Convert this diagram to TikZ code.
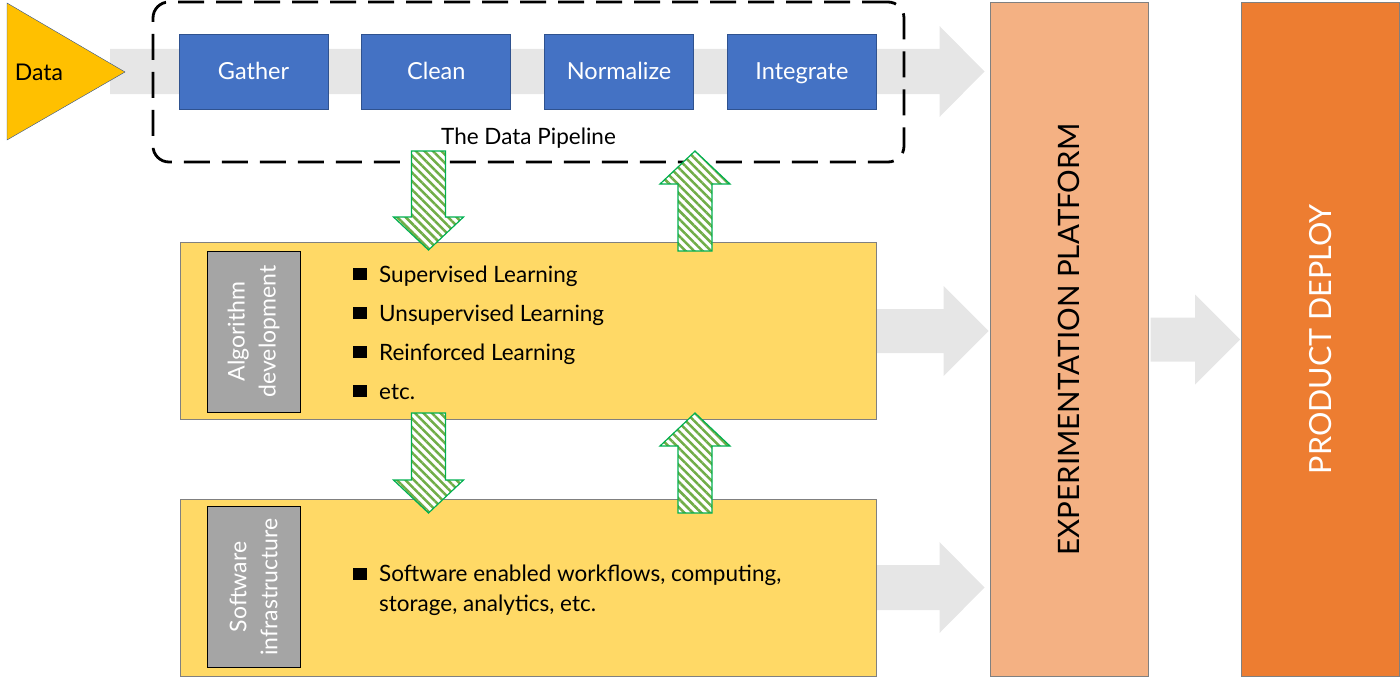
\documentclass[tikz,border=0pt]{standalone}
\usepackage{fontspec}
\setmainfont{Lato}
\usetikzlibrary{positioning,calc,backgrounds,patterns.meta}

\definecolor{datagold}{HTML}{FFC000}
\definecolor{pipeblue}{HTML}{4472C4}
\definecolor{pipeedge}{HTML}{2F528F}
\definecolor{bandgray}{HTML}{E6E6E6}
\definecolor{devyellow}{HTML}{FFD966}
\definecolor{taggray}{HTML}{A5A5A5}
\definecolor{expsalmon}{HTML}{F4B183}
\definecolor{deployorange}{HTML}{ED7D31}
\definecolor{hatchgreen}{HTML}{70AD47}
\definecolor{hatchedge}{HTML}{00B050}

% broad gray arrow: #1 tail, #2 tip, #3 half shaft, #4 half head
\newcommand{\bandarrow}[4]{%
\fill[bandgray] let \p1=(#1), \p2=(#2) in
  (\x1,{\y1+#3pt}) -- ({\x2-45pt},{\y1+#3pt}) -- ({\x2-45pt},{\y1+#4pt}) -- (\x2,\y1)
  -- ({\x2-45pt},{\y1-#4pt}) -- ({\x2-45pt},{\y1-#3pt}) -- (\x1,{\y1-#3pt}) -- cycle;}
% hatched green arrow: #1 tail, #2 tip, #3 = 1 down, -1 up
\newcommand{\hatcharrow}[3]{%
\draw[hatch] let \p1=(#1), \p2=(#2) in
  ({\x1-17pt},\y1) -- ({\x1+17pt},\y1) -- ({\x1+17pt},{\y2+(#3)*33pt}) -- ({\x1+35pt},{\y2+(#3)*33pt})
  -- (\x2,\y2) -- ({\x1-35pt},{\y2+(#3)*33pt}) -- ({\x1-17pt},{\y2+(#3)*33pt}) -- cycle;}

\begin{document}
\begin{tikzpicture}[x=1pt,y=-1pt,
  stage/.style={draw=pipeedge,fill=pipeblue,text=white,line width=0.8pt,minimum width=149pt,minimum height=75pt,inner sep=0pt,text height=19pt,text depth=2pt,font=\fontsize{23.5}{28}\selectfont},
  pipebox/.style={draw,dash pattern=on 26pt off 12pt,line width=2.8pt,rounded corners=16pt,minimum width=751pt,minimum height=160pt,inner sep=0pt},
  devbox/.style={draw=gray,fill=devyellow,line width=1pt,minimum width=696pt,minimum height=177pt,inner sep=0pt},
  tag/.style={draw=black,fill=taggray,text=white,line width=1pt,rotate=90,minimum width=161pt,minimum height=93pt,inner sep=0pt,align=center,font=\fontsize{23}{31}\selectfont},
  bulsq/.style={fill=black,minimum width=13.5pt,minimum height=12.5pt,inner sep=0pt},
  item/.style={anchor=base west,inner sep=0pt,font=\fontsize{22.5}{30}\selectfont},
  platform/.style={draw=gray,line width=1pt,minimum width=158pt,minimum height=673pt,inner sep=0pt},
  hatch/.style={draw=hatchedge,line width=1.2pt,preaction={fill=white},pattern={Lines[angle=-45,distance=6pt,line width=2.5pt]},pattern color=hatchgreen}]
\useasboundingbox (0,0) rectangle (1400,677);

% data source
\draw[fill=datagold,draw=pipeedge] (7,3) -- (125,72) -- (7,140) -- cycle;
\node[font=\fontsize{23}{27}\selectfont] (data) at (39,72) {Data};
\coordinate (bandstart) at (110,71.5);

% the pipeline
\node[stage] (gather) at (253.5,71.5) {Gather};
\node[stage,right=33pt of gather] (clean) {Clean};
\node[stage,right=33pt of clean] (normalize) {Normalize};
\node[stage,right=33pt of normalize] (integrate) {Integrate};
\node[pipebox] (pipe) at (528.5,82) {};
\node[font=\fontsize{22.5}{27}\selectfont] (pipelabel) at (528.5,138) {The Data Pipeline};

% development boxes
\node[devbox] (algo) at (528,331) {};
\node[devbox] (soft) at (528,587.5) {};
\node[tag] (algotag) at (253.5,331.5) {Algorithm\\development};
\node[tag] (softtag) at (253.5,587) {Software\\infrastructure};
\foreach \t [count=\i] in {Supervised Learning,Unsupervised Learning,Reinforced Learning,etc.}{
  \node[bulsq] (bul\i) at (360,{274+39*(\i-1)}) {};
  \node[item] (item\i) at (379,{282+39*(\i-1)}) {\t};
}
\node[bulsq] (bulsoft) at (360,574) {};
\node[item,anchor=west,align=left] (itemsoft) at (379,590) {Software enabled workflows, computing,\\storage, analytics, etc.};

% platforms
\node[platform,fill=expsalmon] (exp) at (1069,339.5) {};
\node[rotate=90,font=\fontsize{29.5}{34}\selectfont] at (exp) {EXPERIMENTATION PLATFORM};
\node[platform,fill=deployorange] (deploy) at (1320.5,339.5) {};
\node[rotate=90,text=white,font=\fontsize{30.5}{35}\selectfont] at (deploy) {PRODUCT DEPLOY};

% gray flow arrows
\begin{scope}[on background layer]
\bandarrow{bandstart}{$(exp.west|-bandstart)+(-5,0)$}{22.5}{45.5}
\bandarrow{algo.east}{$(exp.west|-algo.east)+(-1,0)$}{22}{45}
\bandarrow{soft.east}{$(exp.west|-soft.east)+(-5,0)$}{22.5}{45.5}
\bandarrow{$(exp.east)+(2,0)$}{$(deploy.west)+(-1,0)$}{22}{45}
\end{scope}

% hatched exchange arrows
\coordinate (d1top) at (428.5,151);  \coordinate (d1tip) at (428.5,250);
\coordinate (u1bot) at (695,251);    \coordinate (u1tip) at (695,151);
\coordinate (d2top) at (428.5,413);  \coordinate (d2tip) at (428.5,513);
\coordinate (u2bot) at (695,513);    \coordinate (u2tip) at (695,413);
\hatcharrow{d1top}{d1tip}{1}
\hatcharrow{u1bot}{u1tip}{-1}
\hatcharrow{d2top}{d2tip}{1}
\hatcharrow{u2bot}{u2tip}{-1}
\end{tikzpicture}
\end{document}
